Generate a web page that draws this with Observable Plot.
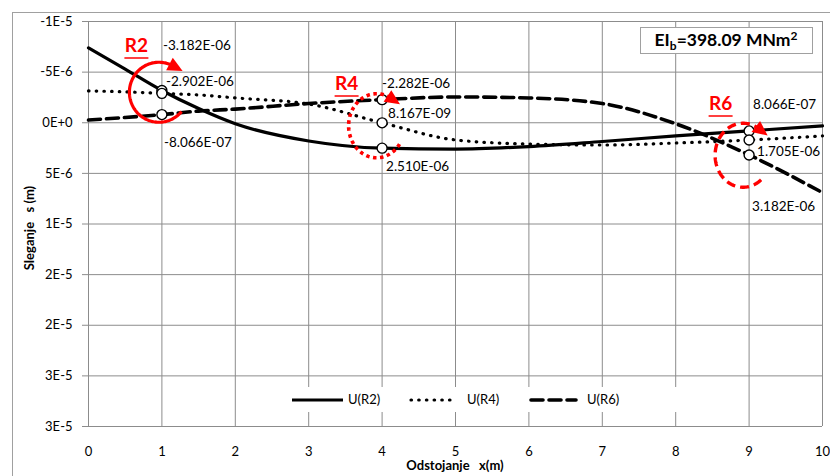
<!DOCTYPE html>
<html>
<head>
<meta charset="utf-8">
<script src="https://cdn.jsdelivr.net/npm/d3@7"></script>
<script src="https://cdn.jsdelivr.net/npm/@observablehq/plot@0.6"></script>
<style>
  body { margin: 0; background: #fff; }
  #chart svg { display: block; }
</style>
</head>
<body>
<div id="chart"></div>
<script>
// Settlement of the beam along its length for three load positions
const distance = [0, 0.5, 1, 1.5, 2, 3, 4, 5, 6, 7, 8, 9, 10];
const seriesNames = ["U(R2)", "U(R4)", "U(R6)"];
const uR2 = [-7.4e-6, -5.3e-6, -3.182e-6, -1.4e-6, 0.1e-6, 1.8e-6, 2.510e-6, 2.6e-6, 2.35e-6, 1.85e-6, 1.3e-6, 8.066e-7, 0.3e-6];
const uR4 = [-3.15e-6, -3.05e-6, -2.902e-6, -2.75e-6, -2.45e-6, -1.85e-6, 8.167e-9, 1.7e-6, 2.1e-6, 2.2e-6, 2.0e-6, 1.705e-6, 1.3e-6];
const uR6 = [-0.27e-6, -0.52e-6, -8.066e-7, -1.15e-6, -1.35e-6, -1.9e-6, -2.282e-6, -2.55e-6, -2.45e-6, -1.9e-6, 0.1e-6, 3.182e-6, 6.9e-6];
const loadPositions = [1, 4, 9];
const xTicks = [0, 1, 2, 3, 4, 5, 6, 7, 8, 9, 10];
const yTicks = [-1e-5, -5e-6, 0, 5e-6, 1e-5, 1.5e-5, 2e-5, 2.5e-5, 3e-5];
const yTickLabels = ["-1E-5", "-5E-6", "0E+0", "5E-6", "1E-5", "2E-5", "2E-5", "3E-5", "3E-5"];
const loadLabels = ["R2", "R4", "R6"];
const stiffnessText = "398.09 MNm";

const seriesValues = [uR2, uR4, uR6];
const rows = seriesValues.flatMap((vals, s) =>
  distance.map((x, i) => ({series: seriesNames[s], x, u: vals[i]})));

// Excel-like scientific format: -3.182E-06
function sci(v) {
  const [m, e] = v.toExponential(3).split("e");
  const ev = parseInt(e, 10);
  return m + "E" + (ev < 0 ? "-" : "+") + String(Math.abs(ev)).padStart(2, "0");
}

const markers = rows.filter(d => loadPositions.includes(d.x));

// label offsets [dx, dy] in pixels, per series, per load position
const labelOffsets = {
  "U(R2)": {1: [1, -45], 4: [4, 19], 9: [4, -26]},
  "U(R4)": {1: [4, -12], 4: [6, -9], 9: [8, 12]},
  "U(R6)": {1: [2, 28], 4: [0, -16], 9: [3, 52]}
};

const styles = {
  "U(R2)": {strokeWidth: 3.2},
  "U(R4)": {strokeWidth: 3.2, strokeDasharray: "0.5 7.2", strokeLinecap: "round"},
  "U(R6)": {strokeWidth: 3.6, strokeDasharray: "12 6"}
};

const gridColor = "#8c8c8c";
const font = "Lato, 'Open Sans', sans-serif";

const plot = Plot.plot({
  width: 830,
  height: 476,
  marginLeft: 88,
  marginRight: 8,
  marginTop: 21,
  marginBottom: 50,
  style: {fontFamily: font, fontSize: "13px", background: "transparent", color: "#000"},
  x: {domain: [0, 10]},
  y: {domain: [-1e-5, 3e-5], reverse: true},
  marks: [
    Plot.gridX(xTicks, {stroke: gridColor, strokeOpacity: 1, strokeWidth: 1}),
    Plot.gridY(yTicks, {stroke: gridColor, strokeOpacity: 1, strokeWidth: 1}),
    Plot.axisY(yTicks, {
      tickSize: 6, tickPadding: 10, stroke: gridColor, fill: "#000",
      tickFormat: d => yTickLabels[yTicks.indexOf(d)], label: null, fontSize: 13
    }),
    Plot.axisX(xTicks, {tickSize: 0, tickPadding: 20, tickFormat: d => String(d), label: null, fontSize: 13}),
    Plot.ruleX([0], {stroke: gridColor}),
    ...seriesNames.map(name =>
      Plot.line(rows.filter(d => d.series === name), {
        x: "x", y: "u", stroke: "#000", curve: "monotone-x", ...styles[name]
      })),
    Plot.dot(markers, {x: "x", y: "u", r: 5, fill: "#fff", stroke: "#000", strokeWidth: 1.4}),
    ...markers.map(d => {
      const [dx, dy] = labelOffsets[d.series][d.x];
      return Plot.text([d], {
        x: "x", y: "u", text: v => sci(v.u), dx, dy,
        textAnchor: "start", fontSize: 13.5, fill: "#000"
      });
    })
  ]
});

document.getElementById("chart").appendChild(plot);

const svg = d3.select(plot);
const X = v => plot.scale("x").apply(v);
const Y = v => plot.scale("y").apply(v);

// outer chart border
svg.insert("rect", ":first-child")
  .attr("x", 12.5).attr("y", 12.5).attr("width", 830).attr("height", 480)
  .attr("fill", "#fff").attr("stroke", "#a0a0a0").attr("stroke-width", 1);

// axis titles
svg.append("text")
  .attr("x", 455).attr("y", 467).attr("text-anchor", "middle")
  .attr("dominant-baseline", "middle")
  .style("white-space", "pre")
  .attr("font-family", font).attr("font-weight", "bold").attr("font-size", 13)
  .text("Odstojanje   x(m)");
svg.append("text")
  .attr("transform", "translate(31,228) rotate(-90)")
  .attr("text-anchor", "middle").attr("dominant-baseline", "middle")
  .style("white-space", "pre")
  .attr("font-family", font).attr("font-weight", "bold").attr("font-size", 13)
  .text("Sleganje   s (m)");

// legend
const lg = svg.append("g");
lg.append("rect").attr("x", 285).attr("y", 387).attr("width", 395).attr("height", 25).attr("fill", "#fff");
const legendItems = [
  {name: seriesNames[0], x1: 292, x2: 343, tx: 348},
  {name: seriesNames[1], x1: 411, x2: 455, tx: 467},
  {name: seriesNames[2], x1: 531, x2: 576, tx: 587}
];
legendItems.forEach(it => {
  const st = styles[it.name];
  lg.append("line")
    .attr("x1", it.x1).attr("x2", it.x2).attr("y1", 400).attr("y2", 400)
    .attr("stroke", "#000").attr("stroke-width", st.strokeWidth)
    .attr("stroke-dasharray", st.strokeDasharray || null)
    .attr("stroke-linecap", st.strokeLinecap || (it.name === "U(R6)" ? "round" : "butt"));
  lg.append("text").attr("x", it.tx).attr("y", 401).attr("dominant-baseline", "middle")
    .attr("text-anchor", "start")
    .attr("font-family", font).attr("font-size", 13).text(it.name);
});

// stiffness box
const eb = svg.append("g");
eb.append("rect").attr("x", 640.5).attr("y", 27.5).attr("width", 172).attr("height", 26)
  .attr("fill", "#fff").attr("stroke", "#a0a0a0");
const et = eb.append("text").attr("x", 726).attr("y", 46).attr("text-anchor", "middle")
  .attr("font-family", font).attr("font-weight", "bold").attr("font-size", 17.5);
et.append("tspan").text("EI");
et.append("tspan").attr("font-size", 12).attr("dy", 4).text("b");
et.append("tspan").attr("dy", -4).text("=" + stiffnessText);
et.append("tspan").attr("font-size", 12).attr("dy", -6).text("2");

// load-position rings with arrowheads
function ring(cx, cy, rx, ry, a0, a1, dash, width) {
  const g = svg.append("g");
  const pts = d3.range(a0, a1 + 0.01, 2).map(a => {
    const t = a * Math.PI / 180;
    return [cx + rx * Math.cos(t), cy + ry * Math.sin(t)];
  });
  g.append("path").attr("d", d3.line()(pts)).attr("fill", "none")
    .attr("stroke", "#ff0000").attr("stroke-width", width)
    .attr("stroke-dasharray", dash);
  const t = a1 * Math.PI / 180;
  const ex = cx + rx * Math.cos(t), ey = cy + ry * Math.sin(t);
  let dx = -rx * Math.sin(t), dy = ry * Math.cos(t);
  const L = Math.hypot(dx, dy); dx /= L; dy /= L;
  const nx = -dy, ny = dx, len = 15, w = 7;
  const tip = [ex + dx * len * 0.75, ey + dy * len * 0.75];
  const b = [ex - dx * len * 0.25, ey - dy * len * 0.25];
  g.append("path")
    .attr("d", `M${tip}L${b[0] + nx * w},${b[1] + ny * w}L${b[0] - nx * w},${b[1] - ny * w}Z`)
    .attr("fill", "#ff0000");
}
ring(X(1) - 2.5, Y(0) - 30, 29.5, 30, 40, 298, null, 3.2);
ring(X(4) - 5, Y(0) + 3.5, 28, 32, 35, 300, "3.5 3.5", 3.6);
ring(X(9) - 5.5, Y(0) + 33, 28, 32, 50, 304, "9 5", 3.4);

// load labels
const rPos = [[X(1) - 25, 47], [X(4) - 35, 85], [X(9) - 28, 105]];
loadLabels.forEach((t, i) => {
  const [x, y] = rPos[i];
  svg.append("text").attr("x", x).attr("y", y).attr("text-anchor", "middle")
    .attr("dominant-baseline", "middle")
    .attr("font-family", font).attr("font-weight", "bold").attr("font-size", 19)
    .attr("fill", "#ff0000").text(t);
  svg.append("line").attr("x1", x - 12).attr("x2", x + 12).attr("y1", y + 11).attr("y2", y + 11)
    .attr("stroke", "#ff0000").attr("stroke-width", 1.5);
});
</script>
</body>
</html>
